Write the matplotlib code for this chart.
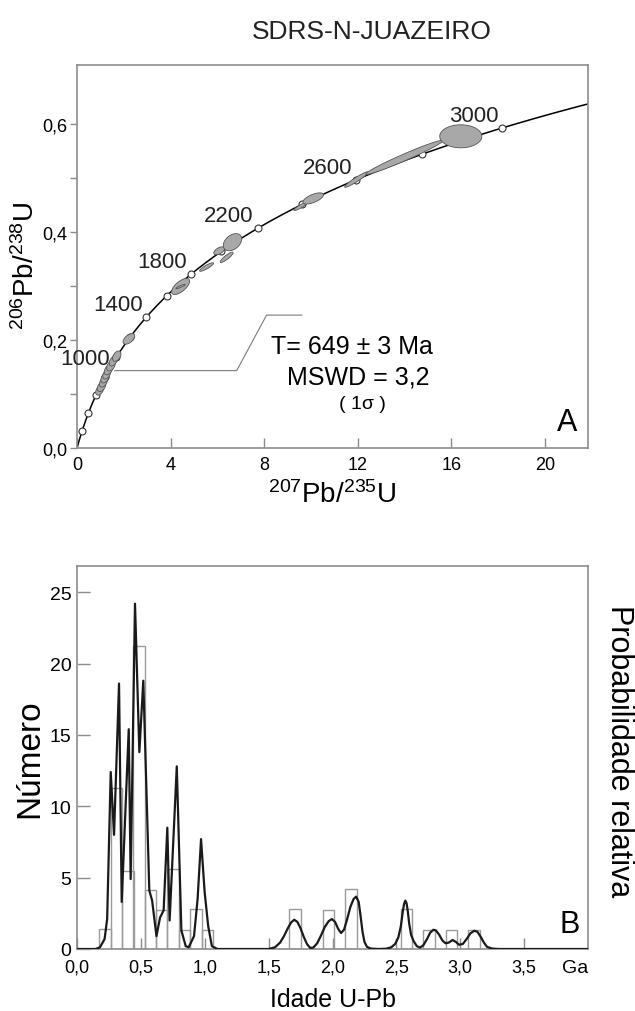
import matplotlib
matplotlib.use("Agg")
import matplotlib.pyplot as plt
import numpy as np

plt.rcParams['font.family'] = ['Liberation Sans', 'DejaVu Sans']
plt.rcParams['mathtext.fontset'] = 'custom'
plt.rcParams['mathtext.rm'] = 'Liberation Sans'
plt.rcParams['mathtext.it'] = 'Liberation Sans'
plt.rcParams['mathtext.bf'] = 'Liberation Sans'

# ---- A: concordia ----
age_marks = [200, 400, 600, 800, 1000, 1200, 1400, 1600, 1800, 2000, 2200, 2400, 2600, 2800, 3000]
age_labels = [1000, 1400, 1800, 2200, 2600, 3000]

# error ellipses: 207Pb/235U, 206Pb/238U, sigma x, sigma y, rho
ell_x = [0.97, 1.05, 1.13, 1.20, 1.27, 1.35, 1.45, 1.55, 1.70, 2.22, 4.43, 4.43, 5.54, 6.08,
         6.40, 6.65, 9.55, 10.10, 11.95, 14.00, 16.41]
ell_y = [0.107, 0.114, 0.122, 0.130, 0.137, 0.145, 0.152, 0.161, 0.170, 0.202, 0.299, 0.299,
         0.335, 0.365, 0.353, 0.381, 0.447, 0.462, 0.497, 0.538, 0.577]
ell_sx = [0.17, 0.18, 0.17, 0.18, 0.17, 0.18, 0.18, 0.17, 0.18, 0.25, 0.385, 0.20, 0.299, 0.231,
          0.274, 0.394, 0.28, 0.44, 0.505, 1.65, 0.90]
ell_sy = [0.0092, 0.0095, 0.0092, 0.0095, 0.0092, 0.0095, 0.0095, 0.0092, 0.0096, 0.0098, 0.0149,
          0.0040, 0.0079, 0.0073, 0.0096, 0.0159, 0.0074, 0.0103, 0.0144, 0.0316, 0.0213]
ell_rho = [0.43, 0.43, 0.43, 0.43, 0.43, 0.43, 0.43, 0.43, 0.43, 0.55, 0.66, 0.90, 0.88, 0.54,
           0.88, 0.38, 0.90, 0.64, 0.95, 0.977, 0.0]

# ---- B: histogram + probability curve ----
bin_left = [0.175, 0.266, 0.355, 0.442, 0.530, 0.620, 0.707, 0.798, 0.888, 0.977,
            1.662, 1.924, 2.100, 2.534, 2.711, 2.888, 3.064]
bin_height = [1.4, 11.3, 5.5, 21.2, 4.1, 2.7, 5.6, 1.3, 2.8, 1.3,
              2.8, 2.7, 4.2, 2.8, 1.3, 1.3, 1.3]

curve_age = [0.0, 0.146, 0.18, 0.216, 0.236, 0.264, 0.290, 0.329, 0.350, 0.405, 0.420, 0.454,
             0.488, 0.519, 0.566, 0.588, 0.622, 0.650, 0.678, 0.707, 0.725, 0.781, 0.817, 0.851,
             0.874, 0.916, 0.944, 0.971, 0.999, 1.027, 1.056, 1.10,
             1.50, 1.55, 1.59, 1.62, 1.65, 1.675, 1.70, 1.725, 1.75, 1.775, 1.80, 1.825,
             1.85, 1.88, 1.91, 1.94, 1.97, 1.995, 2.02, 2.045, 2.067, 2.09, 2.115, 2.14, 2.165,
             2.185, 2.205, 2.22, 2.235, 2.25, 2.27, 2.30, 2.36,
             2.42, 2.46, 2.49, 2.515, 2.535, 2.55, 2.56, 2.57, 2.58, 2.59, 2.60, 2.615, 2.635,
             2.66, 2.685, 2.71, 2.74, 2.765, 2.79, 2.81, 2.835, 2.86, 2.885, 2.91, 2.94, 2.965,
             2.99, 3.02, 3.05, 3.08, 3.11, 3.135, 3.16, 3.185, 3.21, 3.25, 3.30, 4.0]
curve_val = [0.0, 0.0, 0.12, 0.7, 2.1, 12.4, 8.0, 18.6, 3.3, 15.4, 4.9, 24.2,
             13.8, 18.8, 4.1, 3.4, 0.9, 2.2, 2.7, 8.5, 2.0, 12.8, 1.3, 0.2,
             0.12, 0.9, 3.5, 7.7, 4.0, 1.6, 0.2, 0.0,
             0.0, 0.12, 0.45, 0.9, 1.45, 1.85, 2.05, 1.9, 1.45, 0.85, 0.35, 0.08,
             0.1, 0.4, 0.95, 1.55, 1.95, 2.1, 1.9, 1.4, 1.12, 1.35, 2.1, 2.95, 3.5,
             3.67, 3.3, 2.3, 1.2, 0.5, 0.15, 0.03, 0.0,
             0.02, 0.12, 0.35, 0.8, 1.6, 2.6, 3.15, 3.39, 3.2, 2.6, 1.8, 1.0, 0.55,
             0.2, 0.1, 0.25, 0.7, 1.15, 1.35, 1.3, 1.0, 0.6, 0.4, 0.45, 0.63, 0.5,
             0.3, 0.35, 0.7, 1.1, 1.28, 1.2, 0.85, 0.45, 0.15, 0.03, 0.0, 0.0]

frame_c = '#8c8c8c'
W, H = 635, 1012
fig = plt.figure(figsize=(W / 100, H / 100), dpi=100)

fig.text(372 / W, 1 - 32 / H, 'SDRS-N-JUAZEIRO', ha='center', va='center', fontsize=19,
         color='#222222')

axA = fig.add_axes([77 / W, 1 - 449 / H, 511 / W, 383 / H])
axB = fig.add_axes([77 / W, 1 - 950 / H, 511 / W, 383 / H])

# concordia curve
l238, l235 = 1.55125e-10, 9.8485e-10
t = np.linspace(0, 3300e6, 600)
cx = np.exp(l235 * t) - 1
cy = np.exp(l238 * t) - 1
axA.plot(cx, cy, color='black', lw=1.1, zorder=2)

tm = np.array(age_marks) * 1e6
axA.plot(np.exp(l235 * tm) - 1, np.exp(l238 * tm) - 1, 'o', ms=5, mfc='white', mec='#333333',
         mew=0.8, zorder=3)

for a in age_labels:
    ta = a * 1e6
    px, py = np.exp(l235 * ta) - 1, np.exp(l238 * ta) - 1
    if a == 1000:
        axA.annotate(str(a), (px, py), xytext=(-6, -1), textcoords='offset pixels',
                     ha='right', va='center', fontsize=16, color='#222222')
    else:
        axA.annotate(str(a), (px, py), xytext=(-4, 2), textcoords='offset pixels',
                     ha='right', va='bottom', fontsize=16, color='#222222')

th = np.linspace(0, 2 * np.pi, 80)
for x0, y0, sx, sy, r in zip(ell_x, ell_y, ell_sx, ell_sy, ell_rho):
    ex = x0 + sx * np.cos(th)
    ey = y0 + sy * (r * np.cos(th) + np.sqrt(1 - r ** 2) * np.sin(th))
    axA.fill(ex, ey, fc='#a8a8a8', ec='#555555', lw=0.6, zorder=4)

axA.set_xlim(0, 21.85)
axA.set_ylim(0, 0.709)
axA.set_xticks([0, 4, 8, 12, 16, 20])
axA.set_xticklabels(['0', '4', '8', '12', '16', '20'])
axA.set_yticks([0, 0.1, 0.2, 0.3, 0.4, 0.5, 0.6])
axA.set_yticklabels(['0,0', '', '0,2', '', '0,4', '', '0,6'])
axA.tick_params(axis='x', direction='in', length=7, width=1, color=frame_c, labelsize=13,
                pad=6)
axA.tick_params(axis='y', direction='out', length=5, width=1, color=frame_c, labelsize=13,
                pad=2)
for s in axA.spines.values():
    s.set_color(frame_c)
    s.set_linewidth(1.2)

axA.text(0.5, -0.12, r'$^{207}$Pb/$^{235}$U', transform=axA.transAxes, ha='center',
         va='center', fontsize=20)
axA.text(-0.1, 0.478, r'$^{206}$Pb/$^{238}$U', transform=axA.transAxes, ha='center',
         va='center', rotation=90, fontsize=20)

axA.plot([0.074, 0.3125, 0.371, 0.44], [0.202, 0.202, 0.347, 0.347], color='#7a7a7a',
         lw=0.8, transform=axA.transAxes, zorder=1)
axA.text(0.539, 0.266, 'T= 649 ± 3 Ma', transform=axA.transAxes, ha='center', va='center',
         fontsize=18)
axA.text(0.55, 0.187, 'MSWD = 3,2', transform=axA.transAxes, ha='center', va='center',
         fontsize=18)
axA.text(0.559, 0.117, '( 1σ )', transform=axA.transAxes, ha='center', va='center',
         fontsize=14)
axA.text(0.98, 0.029, 'A', transform=axA.transAxes, ha='right', va='bottom', fontsize=22)

# histogram + curve
axB.bar(bin_left, bin_height, width=0.088, align='edge', fill=False, edgecolor='#9a9a9a',
        lw=1.0, zorder=2)
axB.plot(curve_age, curve_val, color='#1a1a1a', lw=1.6, zorder=3)

axB.set_xlim(0, 4.0)
axB.set_ylim(0, 26.84)
xt = [0, 0.5, 1.0, 1.5, 2.0, 2.5, 3.0, 3.5]
axB.set_xticks(xt)
axB.set_xticklabels([f'{v:.1f}'.replace('.', ',') for v in xt])
axB.set_yticks([0, 5, 10, 15, 20, 25])
axB.tick_params(axis='x', direction='in', length=8, width=1, color=frame_c, labelsize=13,
                pad=7)
axB.tick_params(axis='y', direction='in', length=9, width=1, color=frame_c, labelsize=14,
                pad=4)
for s in axB.spines.values():
    s.set_color(frame_c)
    s.set_linewidth(1.2)

axB.text(1.0, -0.047, 'Ga', transform=axB.transAxes, ha='right', va='center', fontsize=14)
axB.text(0.5, -0.13, 'Idade U-Pb', transform=axB.transAxes, ha='center', va='center',
         fontsize=18)
axB.text(-0.092, 0.5, 'Número', transform=axB.transAxes, ha='center', va='center',
         rotation=90, fontsize=24)
axB.text(1.06, 0.52, 'Probabilidade relativa', transform=axB.transAxes, ha='center',
         va='center', rotation=-90, fontsize=22)
axB.text(0.984, 0.026, 'B', transform=axB.transAxes, ha='right', va='bottom', fontsize=22)

fig.savefig('out.png', dpi=100)
